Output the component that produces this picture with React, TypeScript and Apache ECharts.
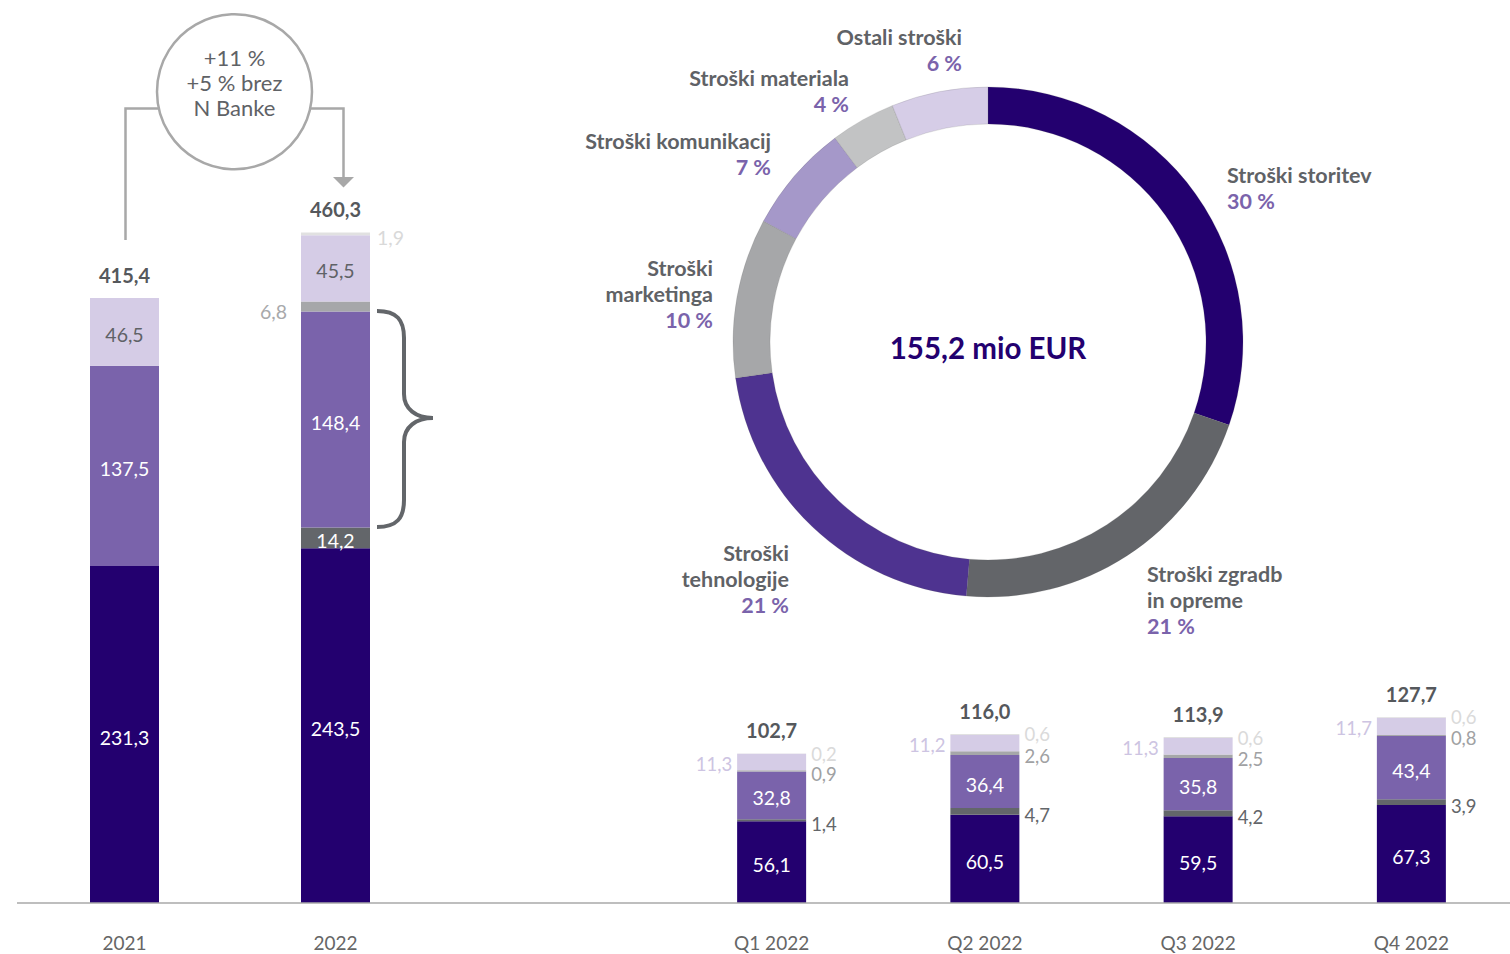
import React, { useEffect, useRef } from "react";
import * as echarts from "echarts";

const annualCategories = ["2021", "2022"];
const quarterCategories = ["Q1 2022", "Q2 2022", "Q3 2022", "Q4 2022"];

const annualLayer1 = [231.3, 243.5];
const annualLayer2 = [0, 14.2];
const annualLayer3 = [137.5, 148.4];
const annualLayer4 = [0, 6.8];
const annualLayer5 = [46.5, 45.5];
const annualLayer6 = [0, 1.9];
const annualTotals = [415.4, 460.3];

const quarterLayer1 = [56.1, 60.5, 59.5, 67.3];
const quarterLayer2 = [1.4, 4.7, 4.2, 3.9];
const quarterLayer3 = [32.8, 36.4, 35.8, 43.4];
const quarterLayer4 = [0.9, 2.6, 2.5, 0.8];
const quarterLayer5 = [11.3, 11.2, 11.3, 11.7];
const quarterLayer6 = [0.2, 0.6, 0.6, 0.6];
const quarterTotals = [102.7, 116.0, 113.9, 127.7];

const donutNames = [
  "Stroški storitev",
  "Stroški zgradb\nin opreme",
  "Stroški\ntehnologije",
  "Stroški\nmarketinga",
  "Stroški komunikacij",
  "Stroški materiala",
  "Ostali stroški",
];
const donutValues = [47.0, 32.7, 33.2, 15.7, 10.7, 6.4, 9.5];

const annotationLines = ["+11 %", "+5 % brez", "N Banke"];

const FONT = "Lato, 'Noto Sans', sans-serif";
const NAVY = "#23006f";
const DGRAY = "#63666a";
const PURPLE = "#7a63ab";
const GRAY = "#a6a7a9";
const LAVENDER = "#d5cce6";
const LGRAY = "#e1e1e1";

const fmt = (v: number) => v.toFixed(1).replace(".", ",");

const bracePath =
  "M377,311 C397,311 404,320 404,338 L404,394 C404,409 416,418 433,418 C416,418 404,427 404,442 L404,500 C404,518 397,527 377,527";
echarts.graphic.registerShape("brace", echarts.graphic.extendPath(bracePath, {}));

type LabelCfg = {
  position: string;
  color: string;
  distance?: number;
  offset?: number[];
  fontSize?: number;
};

function layer(axis: number, data: number[], color: string, lab: LabelCfg) {
  return {
    type: "bar",
    xAxisIndex: axis,
    yAxisIndex: axis,
    stack: "s" + axis,
    data,
    barWidth: 69,
    barGap: "-100%",
    z: 3,
    itemStyle: { color },
    label: {
      show: true,
      position: lab.position,
      color: lab.color,
      distance: lab.distance ?? 5,
      offset: lab.offset ?? [0, 0],
      fontFamily: FONT,
      fontSize: lab.fontSize ?? 19.5,
      formatter: (p: any) => (p.value ? fmt(p.value) : ""),
    },
  };
}

function totals(axis: number, data: number[]) {
  return {
    type: "bar",
    xAxisIndex: axis,
    yAxisIndex: axis,
    data,
    barWidth: 69,
    barGap: "-100%",
    z: 1,
    itemStyle: { color: "rgba(0,0,0,0)" },
    label: {
      show: true,
      position: "top",
      distance: 13,
      color: "#55585c",
      fontFamily: FONT,
      fontWeight: "bold",
      fontSize: 20,
      formatter: (p: any) => fmt(p.value),
    },
  };
}

const labelAnchors = [
  { x: 1227, y: 162, align: "left" },
  { x: 1147, y: 561, align: "left" },
  { x: 789, y: 540, align: "right" },
  { x: 713, y: 255, align: "right" },
  { x: 771, y: 128, align: "right" },
  { x: 849, y: 65, align: "right" },
  { x: 962, y: 24, align: "right" },
];

export default function App() {
  const ref = useRef<HTMLDivElement>(null);
  useEffect(() => {
    if (!ref.current) return;
    const chart = echarts.init(ref.current, undefined, { renderer: "svg" });
    const donutTotal = donutValues.reduce((a, b) => a + b, 0);
    const xAxisBase = {
      type: "category",
      axisLine: { show: false },
      axisTick: { show: false },
      axisLabel: { color: "#666666", fontFamily: FONT, fontSize: 19, margin: 30 },
    };
    const yAxisBase = { type: "value", min: 0, max: 600, show: false, splitLine: { show: false } };
    const inside = { position: "inside", color: "#ffffff", offset: [0, 2.5] };
    const option: any = {
      animation: false,
      grid: [
        { left: 19, width: 422, top: 29, bottom: 51 },
        { left: 665, width: 853, top: 29, bottom: 51 },
      ],
      xAxis: [
        { ...xAxisBase, gridIndex: 0, data: annualCategories },
        { ...xAxisBase, gridIndex: 1, data: quarterCategories },
      ],
      yAxis: [
        { ...yAxisBase, gridIndex: 0 },
        { ...yAxisBase, gridIndex: 1 },
      ],
      series: [
        totals(0, annualTotals),
        layer(0, annualLayer1, NAVY, inside),
        layer(0, annualLayer2, DGRAY, { position: "inside", color: "#ffffff", offset: [0, 3] }),
        layer(0, annualLayer3, PURPLE, inside),
        layer(0, annualLayer4, GRAY, { position: "left", color: "#a8a9ab", distance: 14, offset: [0, 5] }),
        layer(0, annualLayer5, LAVENDER, { position: "inside", color: "#5f6266", offset: [0, 2.5] }),
        layer(0, annualLayer6, LGRAY, { position: "right", color: "#d9d9d9", distance: 7, offset: [0, 4] }),
        totals(1, quarterTotals),
        layer(1, quarterLayer1, NAVY, inside),
        layer(1, quarterLayer2, DGRAY, { position: "right", color: DGRAY, offset: [0, 4], fontSize: 18.5 }),
        layer(1, quarterLayer3, PURPLE, inside),
        layer(1, quarterLayer4, GRAY, { position: "right", color: "#a0a1a3", offset: [0, 3], fontSize: 18.5 }),
        layer(1, quarterLayer5, LAVENDER, { position: "left", color: "#cdc4e2", offset: [0, 2], fontSize: 18.5 }),
        layer(1, quarterLayer6, LGRAY, { position: "right", color: "#dadada", offset: [0, 0], fontSize: 18.5 }),
        {
          type: "pie",
          center: [988, 342],
          radius: [218, 255],
          startAngle: 90,
          clockwise: true,
          silent: true,
          color: [NAVY, "#636569", "#4e3390", GRAY, "#a598c9", "#c2c3c4", "#d6cde7"],
          itemStyle: { borderColor: "rgba(90,90,90,0.35)", borderWidth: 0.5 },
          labelLine: { show: false },
          label: {
            show: true,
            position: "outside",
            formatter: (p: any) =>
              p.name
                .split("\n")
                .map((l: string) => `{n|${l}}`)
                .join("\n") + `\n{p|${Math.round(p.percent)} %}`,
            rich: {
              n: { fontFamily: FONT, fontWeight: "bold", fontSize: 21.5, color: "#5f6266", lineHeight: 26 },
              p: { fontFamily: FONT, fontWeight: "bold", fontSize: 21.5, color: "#7a63ab", lineHeight: 26 },
            },
          },
          labelLayout: (params: any) => {
            const a = labelAnchors[params.dataIndex];
            return { x: a.x, y: a.y, align: a.align, verticalAlign: "top" };
          },
          data: donutNames.map((name, i) => ({ name, value: donutValues[i] })),
        },
      ],
      graphic: [
        {
          type: "line",
          shape: { x1: 17, y1: 903, x2: 1510, y2: 903 },
          style: { stroke: "#a8a8a8", lineWidth: 1.5 },
          z: 10,
        },
        {
          type: "text",
          x: 988,
          y: 347,
          style: {
            text: `${fmt(donutTotal)} mio EUR`,
            fill: NAVY,
            fontFamily: FONT,
            fontWeight: "bold",
            fontSize: 29.5,
            textAlign: "center",
            textVerticalAlign: "middle",
          },
        },
        {
          type: "circle",
          shape: { cx: 234.5, cy: 91.7, r: 77.5 },
          style: { fill: "none", stroke: "#a8a8a8", lineWidth: 2.5 },
        },
        ...annotationLines.map((t, i) => ({
          type: "text",
          x: 234.5,
          y: 57 + i * 25,
          style: {
            text: t,
            fill: "#5f6266",
            fontFamily: FONT,
            fontSize: 22,
            textAlign: "center",
            textVerticalAlign: "middle",
          },
        })),
        {
          type: "polyline",
          shape: { points: [[125.5, 240], [125.5, 108.5], [158, 108.5]] },
          style: { fill: "none", stroke: "#a8a8a8", lineWidth: 2.5 },
        },
        {
          type: "polyline",
          shape: { points: [[311, 108.5], [343.5, 108.5], [343.5, 178]] },
          style: { fill: "none", stroke: "#a8a8a8", lineWidth: 2.5 },
        },
        {
          type: "polygon",
          shape: { points: [[333, 177], [354, 177], [343.5, 187.5]] },
          style: { fill: "#a8a8a8" },
        },
        {
          type: "brace",
          x: 0,
          y: 0,
          style: { fill: "none", stroke: DGRAY, lineWidth: 4 },
        },
      ],
    };
    chart.setOption(option);
    return () => chart.dispose();
  }, []);
  return (
    <div
      ref={ref}
      style={{ position: "fixed", left: 0, top: 0, width: 1530, height: 954, background: "#ffffff" }}
    />
  );
}
